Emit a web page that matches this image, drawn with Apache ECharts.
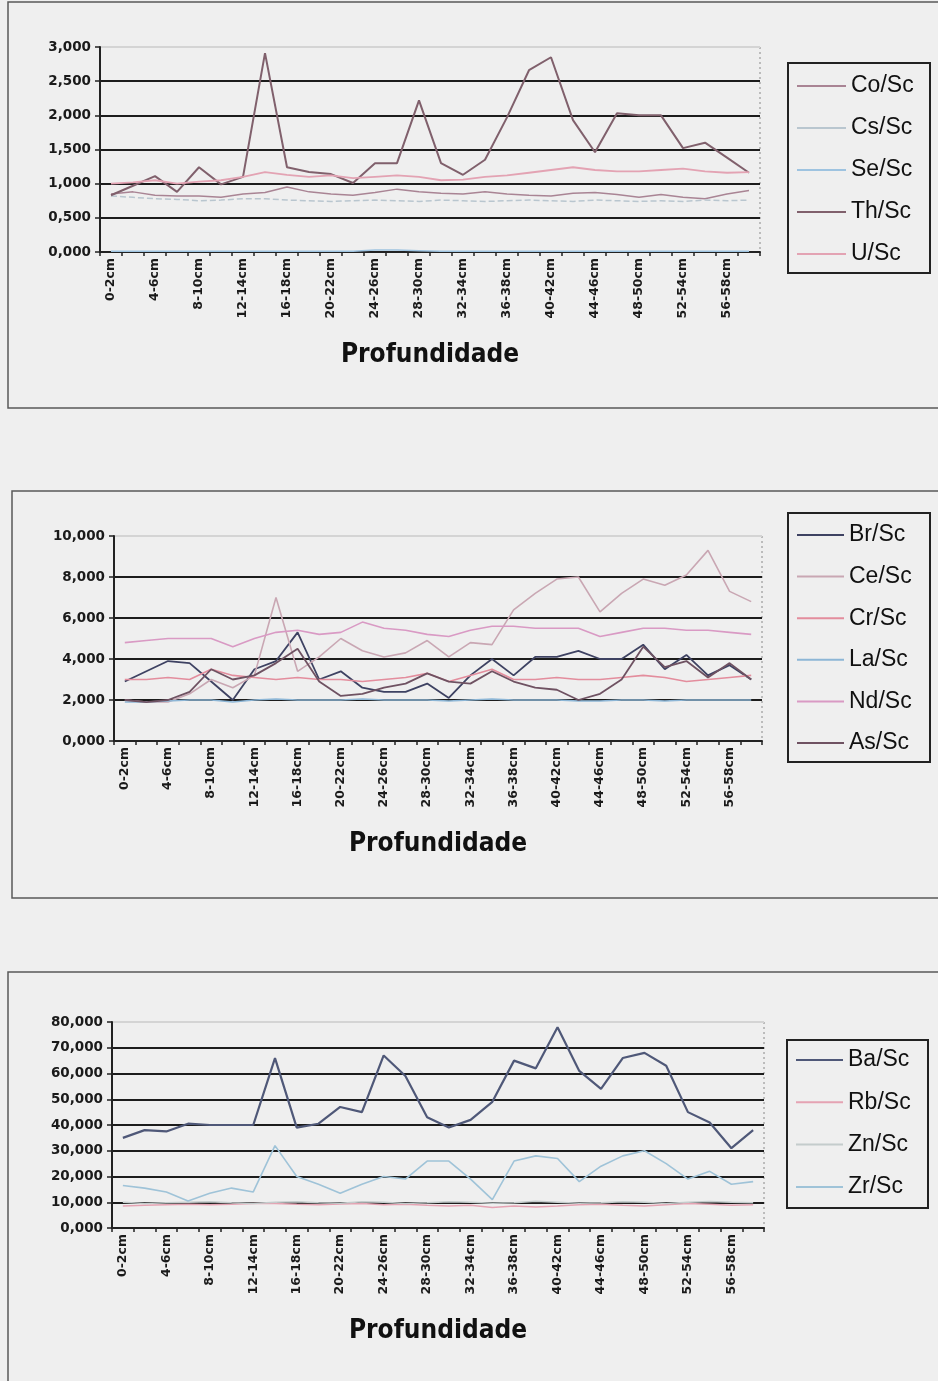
<!DOCTYPE html>
<html>
<head>
<meta charset="utf-8">
<script src="https://cdn.jsdelivr.net/npm/echarts@6/dist/echarts.min.js"></script>
<style>
  html, body { margin: 0; padding: 0; background: #efefef; }
  #chart { width: 938px; height: 1381px; }
</style>
</head>
<body>
<div id="chart"></div>
<script>
// Depth intervals (sample slices)
const categories = [
  '0-2cm', '2-4cm', '4-6cm', '6-8cm', '8-10cm', '10-12cm', '12-14cm', '14-16cm',
  '16-18cm', '18-20cm', '20-22cm', '22-24cm', '24-26cm', '26-28cm', '28-30cm',
  '30-32cm', '32-34cm', '34-36cm', '36-38cm', '38-40cm', '40-42cm', '42-44cm',
  '44-46cm', '46-48cm', '48-50cm', '50-52cm', '52-54cm', '54-56cm', '56-58cm', '58-60cm'
];

// Panel 1 ratios
const coSc = [0.85, 0.88, 0.83, 0.82, 0.82, 0.80, 0.85, 0.87, 0.95, 0.88, 0.85, 0.83, 0.87, 0.92, 0.88, 0.86, 0.85, 0.88, 0.85, 0.83, 0.82, 0.86, 0.87, 0.84, 0.80, 0.84, 0.80, 0.78, 0.85, 0.90];
const csSc = [0.82, 0.80, 0.78, 0.77, 0.75, 0.76, 0.78, 0.78, 0.76, 0.75, 0.74, 0.75, 0.76, 0.75, 0.74, 0.76, 0.75, 0.74, 0.75, 0.76, 0.75, 0.74, 0.76, 0.75, 0.74, 0.75, 0.74, 0.76, 0.75, 0.76];
const seSc = [0.01, 0.01, 0.01, 0.01, 0.01, 0.01, 0.01, 0.01, 0.01, 0.01, 0.01, 0.01, 0.03, 0.03, 0.02, 0.01, 0.01, 0.01, 0.01, 0.01, 0.01, 0.01, 0.01, 0.01, 0.01, 0.01, 0.01, 0.01, 0.01, 0.01];
const thSc = [0.83, 0.97, 1.11, 0.88, 1.24, 0.99, 1.10, 2.91, 1.24, 1.17, 1.14, 1.01, 1.30, 1.30, 2.22, 1.30, 1.13, 1.35, 1.97, 2.66, 2.85, 1.93, 1.46, 2.03, 2.00, 2.00, 1.52, 1.60, 1.38, 1.16];
const uSc  = [1.00, 1.02, 1.05, 1.00, 1.03, 1.05, 1.10, 1.17, 1.13, 1.10, 1.12, 1.08, 1.10, 1.12, 1.10, 1.05, 1.06, 1.10, 1.12, 1.16, 1.20, 1.24, 1.20, 1.18, 1.18, 1.20, 1.22, 1.18, 1.16, 1.17];

// Panel 2 ratios
const brSc = [2.9, 3.4, 3.9, 3.8, 2.9, 2.0, 3.5, 3.9, 5.3, 3.0, 3.4, 2.6, 2.4, 2.4, 2.8, 2.1, 3.2, 4.0, 3.2, 4.1, 4.1, 4.4, 4.0, 4.0, 4.7, 3.5, 4.2, 3.2, 3.7, 3.0];
const ceSc = [2.0, 1.9, 1.9, 2.3, 3.0, 2.6, 3.2, 7.0, 3.4, 4.1, 5.0, 4.4, 4.1, 4.3, 4.9, 4.1, 4.8, 4.7, 6.4, 7.2, 7.9, 8.0, 6.3, 7.2, 7.9, 7.6, 8.1, 9.3, 7.3, 6.8];
const crSc = [3.0, 3.0, 3.1, 3.0, 3.5, 3.2, 3.1, 3.0, 3.1, 3.0, 3.0, 2.9, 3.0, 3.1, 3.3, 2.9, 3.2, 3.5, 3.0, 3.0, 3.1, 3.0, 3.0, 3.1, 3.2, 3.1, 2.9, 3.0, 3.1, 3.2];
const laSc = [1.9, 1.9, 1.95, 2.0, 2.0, 1.9, 2.0, 2.05, 2.0, 2.0, 2.0, 2.05, 2.0, 2.0, 2.0, 1.95, 2.0, 2.05, 2.0, 2.0, 2.0, 1.95, 1.95, 2.0, 2.0, 1.95, 2.0, 2.0, 2.0, 2.0];
const ndSc = [4.8, 4.9, 5.0, 5.0, 5.0, 4.6, 5.0, 5.3, 5.4, 5.2, 5.3, 5.8, 5.5, 5.4, 5.2, 5.1, 5.4, 5.6, 5.6, 5.5, 5.5, 5.5, 5.1, 5.3, 5.5, 5.5, 5.4, 5.4, 5.3, 5.2];
const asSc = [2.0, 1.9, 2.0, 2.4, 3.5, 3.0, 3.2, 3.8, 4.5, 2.9, 2.2, 2.3, 2.6, 2.8, 3.3, 2.9, 2.8, 3.4, 2.9, 2.6, 2.5, 2.0, 2.3, 3.0, 4.6, 3.6, 3.9, 3.1, 3.8, 3.0];

// Panel 3 ratios
const baSc = [35, 38, 37.5, 40.5, 40, 40, 40, 66, 39, 40.5, 47, 45, 67, 59, 43, 39, 42, 49, 65, 62, 78, 61, 54, 66, 68, 63, 45, 41, 31, 38];
const rbSc = [8.5, 8.8, 9.0, 9.2, 9.0, 9.2, 9.5, 9.5, 9.2, 9.0, 9.3, 9.5, 9.0, 9.2, 8.8, 8.5, 8.8, 8.0, 8.5, 8.2, 8.5, 9.0, 9.2, 8.8, 8.5, 9.0, 9.5, 9.2, 8.8, 9.0];
const znSc = [10.0, 9.5, 9.8, 10.0, 10.2, 9.8, 9.5, 10.0, 10.2, 9.8, 9.6, 10.2, 10.0, 9.5, 9.8, 10.2, 10.0, 9.6, 9.8, 10.4, 10.0, 9.6, 9.8, 10.2, 10.0, 9.5, 10.0, 10.3, 10.0, 9.8];
const zrSc = [16.5, 15.5, 14, 10.5, 13.5, 15.5, 14, 32, 20, 17, 13.5, 17, 20, 19, 26, 26, 19, 11, 26, 28, 27, 18, 24, 28, 30, 25, 19, 22, 17, 18];

// Y axis ticks per panel
const yTicks1 = { min: 0, max: 3, interval: 0.5 };
const yTicks2 = { min: 0, max: 10, interval: 2 };
const yTicks3 = { min: 0, max: 80, interval: 10 };

const axisTitle = 'Profundidade';

const TICK_FONT = 'DejaVu Sans';
const LEGEND_FONT = 'Liberation Sans';
const TITLE_FONT = "'DejaVu Sans Condensed', 'DejaVu Sans'";

const fmtComma = v => v.toFixed(3).replace('.', ',');

// Solid dark grid lines, with a faint one at the top of the scale
function gridLineColors(t) {
  const n = Math.round((t.max - t.min) / t.interval) + 1;
  const arr = [];
  for (let i = 0; i < n; i++) arr.push(i === n - 1 ? '#d4d4d4' : '#1c1c1c');
  return arr;
}

function xAxisFor(gridIndex) {
  return {
    type: 'category',
    gridIndex,
    data: categories,
    boundaryGap: true,
    axisLine: { lineStyle: { color: '#222', width: 2 } },
    axisTick: { show: true, interval: 0, length: 4, lineStyle: { color: '#222', width: 1.5 } },
    axisLabel: {
      interval: 1, rotate: 90, margin: 6,
      fontFamily: TICK_FONT, fontWeight: 'bold', fontSize: 12.5, color: '#1a1a1a'
    },
    name: axisTitle,
    nameLocation: 'middle',
    nameGap: 90,
    nameTextStyle: { fontFamily: TITLE_FONT, fontWeight: 'bold', fontSize: 26, color: '#111' }
  };
}

function yAxisFor(gridIndex, t) {
  return {
    type: 'value',
    gridIndex,
    min: t.min, max: t.max, interval: t.interval,
    axisLine: { show: true, lineStyle: { color: '#222', width: 2 } },
    axisTick: { show: true, length: 5, lineStyle: { color: '#222', width: 1.5 } },
    axisLabel: {
      formatter: fmtComma, margin: 9,
      fontFamily: TICK_FONT, fontWeight: 'bold', fontSize: 13.5, color: '#1a1a1a'
    },
    splitLine: { show: true, lineStyle: { color: gridLineColors(t), width: 2 } }
  };
}

function line(name, data, idx, color, width, type) {
  return {
    name, type: 'line', data,
    xAxisIndex: idx, yAxisIndex: idx,
    symbol: 'none', smooth: false, animation: false,
    lineStyle: { color, width, type: type || 'solid' },
    itemStyle: { color }
  };
}

const legendText = { fontFamily: LEGEND_FONT, fontSize: 23, color: '#111', lineHeight: 26 };
const legendCommon = {
  orient: 'vertical', padding: 0, icon: 'rect', itemHeight: 2, textStyle: legendText
};

const option = {
  backgroundColor: '#efefef',
  animation: false,
  grid: [
    { left: 100, top: 47, width: 660, height: 205 },
    { left: 114, top: 536, width: 648, height: 205 },
    { left: 112, top: 1022, width: 652, height: 206 }
  ],
  xAxis: [xAxisFor(0), xAxisFor(1), xAxisFor(2)],
  yAxis: [yAxisFor(0, yTicks1), yAxisFor(1, yTicks2), yAxisFor(2, yTicks3)],
  legend: [
    Object.assign({ data: ['Co/Sc', 'Cs/Sc', 'Se/Sc', 'Th/Sc', 'U/Sc'], left: 797, top: 73,
      itemWidth: 49, itemGap: 16 }, legendCommon),
    Object.assign({ data: ['Br/Sc', 'Ce/Sc', 'Cr/Sc', 'La/Sc', 'Nd/Sc', 'As/Sc'], left: 797, top: 522,
      itemWidth: 47, itemGap: 15.6 }, legendCommon),
    Object.assign({ data: ['Ba/Sc', 'Rb/Sc', 'Zn/Sc', 'Zr/Sc'], left: 796, top: 1047,
      itemWidth: 47, itemGap: 16.3 }, legendCommon)
  ],
  series: [
    line('Co/Sc', coSc, 0, '#a98494', 1.5),
    line('Cs/Sc', csSc, 0, '#b9c6cf', 1.5, 'dashed'),
    line('Se/Sc', seSc, 0, '#9ec3e0', 1.5),
    line('Th/Sc', thSc, 0, '#80606c', 2),
    line('U/Sc', uSc, 0, '#e3a3b3', 1.8),

    line('Br/Sc', brSc, 1, '#3e4262', 1.8),
    line('Ce/Sc', ceSc, 1, '#c9a7b3', 1.6),
    line('Cr/Sc', crSc, 1, '#e38d9d', 1.6),
    line('La/Sc', laSc, 1, '#8db6d6', 1.6),
    line('Nd/Sc', ndSc, 1, '#d99ac4', 1.6),
    line('As/Sc', asSc, 1, '#6f5262', 1.8),

    line('Ba/Sc', baSc, 2, '#4f5878', 2.2),
    line('Rb/Sc', rbSc, 2, '#e5a3b3', 1.5),
    line('Zn/Sc', znSc, 2, '#c4cccc', 1.5),
    line('Zr/Sc', zrSc, 2, '#9fc3d8', 1.6)
  ],
  graphic: [
    // panel frames
    { type: 'polyline', silent: true, shape: { points: [[960, 2], [8, 2], [8, 408], [960, 408]] },
      style: { fill: null, stroke: '#5a5a5a', lineWidth: 1.5 } },
    { type: 'polyline', silent: true, shape: { points: [[960, 491], [12, 491], [12, 898], [960, 898]] },
      style: { fill: null, stroke: '#5a5a5a', lineWidth: 1.5 } },
    { type: 'polyline', silent: true, shape: { points: [[960, 972], [8, 972], [8, 1400]] },
      style: { fill: null, stroke: '#5a5a5a', lineWidth: 1.5 } },
    // legend frames
    { type: 'rect', silent: true, shape: { x: 788, y: 63, width: 142, height: 210 },
      style: { fill: null, stroke: '#222', lineWidth: 2 } },
    { type: 'rect', silent: true, shape: { x: 788, y: 513, width: 142, height: 249 },
      style: { fill: null, stroke: '#222', lineWidth: 2 } },
    { type: 'rect', silent: true, shape: { x: 787, y: 1040, width: 141, height: 168 },
      style: { fill: null, stroke: '#222', lineWidth: 2 } },
    // dotted right edges of plot areas
    { type: 'line', silent: true, shape: { x1: 760, y1: 47, x2: 760, y2: 252 },
      style: { stroke: '#888', lineWidth: 1, lineDash: [2, 3] } },
    { type: 'line', silent: true, shape: { x1: 762, y1: 536, x2: 762, y2: 741 },
      style: { stroke: '#888', lineWidth: 1, lineDash: [2, 3] } },
    { type: 'line', silent: true, shape: { x1: 764, y1: 1022, x2: 764, y2: 1228 },
      style: { stroke: '#888', lineWidth: 1, lineDash: [2, 3] } }
  ]
};

const chart = echarts.init(document.getElementById('chart'), null, { renderer: 'canvas' });
chart.setOption(option);
</script>
</body>
</html>
